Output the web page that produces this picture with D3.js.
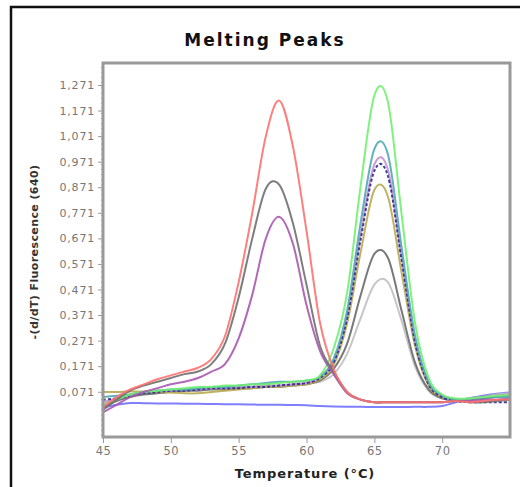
<html lang="en">
<head>
<style>
  body { margin: 0; background: #fff; }
  text { font-family: "DejaVu Sans", sans-serif; }
</style>
</head>
<body>
<script type='text/javascript' src='https://d3js.org/d3.v7.min.js'></script>
<script>
    // temperature grid (°C)
    var temps = [45, 46, 47, 48, 49, 50, 51, 52, 53, 54, 55, 56, 57, 58, 59, 60,
                 61, 62, 63, 64, 65, 66, 67, 68, 69, 70, 71, 72, 73, 74, 75];

    // -(d/dT) fluorescence, one array per sample
    var blueBase = [0.010, 0.020, 0.027, 0.026, 0.025, 0.025, 0.024, 0.024, 0.023, 0.022, 0.022, 0.021, 0.020, 0.020, 0.019, 0.018,
                    0.015, 0.013, 0.012, 0.012, 0.011, 0.011, 0.011, 0.012, 0.012, 0.015, 0.030, 0.045, 0.055, 0.063, 0.068];
    var lightGray = [0.020, 0.040, 0.055, 0.065, 0.070, 0.075, 0.080, 0.080, 0.085, 0.085, 0.090, 0.090, 0.095, 0.095, 0.100, 0.105,
                     0.110, 0.140, 0.220, 0.360, 0.490, 0.500, 0.350, 0.170, 0.075, 0.045, 0.040, 0.045, 0.050, 0.060, 0.065];
    var darkGray = [0.010, 0.035, 0.050, 0.060, 0.065, 0.070, 0.075, 0.075, 0.080, 0.080, 0.085, 0.085, 0.090, 0.090, 0.095, 0.100,
                    0.115, 0.160, 0.260, 0.450, 0.610, 0.595, 0.390, 0.185, 0.080, 0.045, 0.040, 0.040, 0.045, 0.050, 0.055];
    var olive = [0.070, 0.070, 0.072, 0.072, 0.070, 0.068, 0.065, 0.065, 0.070, 0.075, 0.080, 0.085, 0.090, 0.090, 0.095, 0.100,
                 0.120, 0.175, 0.340, 0.620, 0.860, 0.835, 0.540, 0.250, 0.095, 0.050, 0.040, 0.045, 0.050, 0.055, 0.060];
    var lavender = [0.030, 0.045, 0.060, 0.070, 0.075, 0.075, 0.080, 0.080, 0.085, 0.085, 0.090, 0.090, 0.095, 0.095, 0.100, 0.105,
                    0.130, 0.190, 0.370, 0.690, 0.960, 0.940, 0.600, 0.270, 0.105, 0.055, 0.040, 0.045, 0.050, 0.055, 0.060];
    var navy = [0.040, 0.045, 0.055, 0.065, 0.070, 0.075, 0.075, 0.080, 0.085, 0.085, 0.085, 0.090, 0.090, 0.095, 0.100, 0.105,
                0.125, 0.185, 0.360, 0.670, 0.935, 0.915, 0.590, 0.265, 0.100, 0.050, 0.035, 0.030, 0.030, 0.030, 0.030];
    var teal = [0.050, 0.055, 0.060, 0.070, 0.075, 0.080, 0.080, 0.085, 0.090, 0.090, 0.095, 0.100, 0.105, 0.110, 0.110, 0.115,
                0.130, 0.200, 0.390, 0.735, 1.020, 1.000, 0.640, 0.290, 0.110, 0.057, 0.040, 0.040, 0.045, 0.050, 0.050];
    var green = [0.020, 0.040, 0.060, 0.070, 0.075, 0.080, 0.085, 0.090, 0.090, 0.095, 0.095, 0.100, 0.100, 0.105, 0.110, 0.115,
                 0.135, 0.240, 0.460, 0.880, 1.230, 1.205, 0.770, 0.340, 0.125, 0.060, 0.045, 0.045, 0.050, 0.055, 0.058];
    var purple = [-0.010, 0.020, 0.050, 0.070, 0.085, 0.100, 0.110, 0.125, 0.150, 0.180, 0.280, 0.450, 0.670, 0.755, 0.650, 0.410,
                  0.230, 0.140, 0.065, 0.040, 0.030, 0.030, 0.030, 0.030, 0.030, 0.030, 0.035, 0.035, 0.040, 0.040, 0.045];
    var gray = [0.000, 0.040, 0.075, 0.095, 0.110, 0.125, 0.140, 0.150, 0.180, 0.260, 0.440, 0.670, 0.865, 0.880, 0.730, 0.490,
                0.250, 0.150, 0.070, 0.040, 0.030, 0.030, 0.030, 0.030, 0.030, 0.030, 0.035, 0.030, 0.030, 0.035, 0.040];
    var red = [0.010, 0.050, 0.080, 0.100, 0.120, 0.135, 0.150, 0.165, 0.200, 0.290, 0.500, 0.770, 1.070, 1.210, 1.030, 0.700,
               0.340, 0.160, 0.070, 0.040, 0.030, 0.030, 0.030, 0.030, 0.030, 0.030, 0.035, 0.030, 0.035, 0.040, 0.040];

    var yTicks = [0.071, 0.171, 0.271, 0.371, 0.471, 0.571, 0.671, 0.771, 0.871, 0.971, 1.071, 1.171, 1.271];
    var yTickLabels = ["0,071", "0,171", "0,271", "0,371", "0,471", "0,571", "0,671", "0,771", "0,871", "0,971", "1,071", "1,171", "1,271"];
    var xTicks = [45, 50, 55, 60, 65, 70];
    var xTickLabels = ["45", "50", "55", "60", "65", "70"];

    var series = [
        { values: blueBase,  color: "#7070ff" },
        { values: lightGray, color: "#c0c0c0" },
        { values: darkGray,  color: "#6a6a6a" },
        { values: olive,     color: "#b8aa50" },
        { values: lavender,  color: "#c890d0" },
        { values: navy,      color: "#2a2a90", dash: "3,2" },
        { values: teal,      color: "#50a8b0" },
        { values: green,     color: "#70f070" },
        { values: purple,    color: "#a858b0" },
        { values: gray,      color: "#707070" },
        { values: red,       color: "#ff7070" }
    ];

    var width = 520, height = 487;
    var pLeft = 103, pRight = 510, pTop = 63, pBottom = 437;

    var svg = d3.select("body").append("svg")
        .attr("width", width)
        .attr("height", height);

    // outer frame
    svg.append("rect")
        .attr("x", 11).attr("y", 7)
        .attr("width", 520).attr("height", 500)
        .attr("fill", "none")
        .attr("stroke", "#111")
        .attr("stroke-width", 2.5);

    var x = d3.scaleLinear().domain([45, 75]).range([pLeft, pRight]);
    var y = d3.scaleLinear().domain([-0.106, 1.357]).range([pBottom, pTop]);

    svg.append("text")
        .attr("x", 265).attr("y", 46)
        .attr("text-anchor", "middle")
        .attr("font-size", 17).attr("font-weight", "bold")
        .attr("letter-spacing", 2)
        .attr("fill", "#111")
        .text("Melting Peaks");

    // y minor ticks
    var minor = d3.scaleLinear().domain([-0.106, 1.357]).ticks(70);
    svg.append("g").selectAll("line")
        .data(minor)
        .enter().append("line")
        .attr("x1", pLeft - 2).attr("x2", pLeft)
        .attr("y1", function(d) { return y(d); })
        .attr("y2", function(d) { return y(d); })
        .attr("stroke", "#aaa");

    var yAxis = d3.axisLeft(y).tickValues(yTicks)
        .tickFormat(function(d, i) { return yTickLabels[i]; })
        .tickSize(5).tickPadding(3);
    var gy = svg.append("g").attr("transform", "translate(" + pLeft + ",0)").call(yAxis);
    gy.select(".domain").remove();
    gy.selectAll("line").attr("stroke", "#999");
    gy.selectAll("text").attr("font-size", 11).attr("fill", "#777")
        .attr("letter-spacing", 0.8)
        .style("font-family", "'DejaVu Sans', sans-serif");

    var xAxis = d3.axisBottom(x).tickValues(xTicks)
        .tickFormat(function(d, i) { return xTickLabels[i]; })
        .tickSize(6).tickPadding(4);
    var gx = svg.append("g").attr("transform", "translate(0," + pBottom + ")").call(xAxis);
    gx.select(".domain").remove();
    gx.selectAll("line").attr("stroke", "#999");
    gx.selectAll("text").attr("font-size", 11.5).attr("fill", "#777")
        .attr("letter-spacing", 0.5)
        .style("font-family", "'DejaVu Sans', sans-serif");

    svg.append("text")
        .attr("transform", "translate(38," + ((pTop + pBottom) / 2 + 2) + ") rotate(-90)")
        .attr("text-anchor", "middle")
        .attr("font-size", 11).attr("font-weight", "bold")
        .attr("letter-spacing", 0.4)
        .attr("fill", "#333")
        .text("-(d/dT) Fluorescence (640)");

    svg.append("text")
        .attr("x", 305).attr("y", 478)
        .attr("text-anchor", "middle")
        .attr("font-size", 13).attr("font-weight", "bold")
        .attr("letter-spacing", 0.9)
        .attr("fill", "#222")
        .text("Temperature (°C)");

    svg.append("clipPath").attr("id", "clip")
        .append("rect")
        .attr("x", pLeft).attr("y", pTop)
        .attr("width", pRight - pLeft).attr("height", pBottom - pTop);

    var line = d3.line()
        .x(function(d, i) { return x(temps[i]); })
        .y(function(d) { return y(d); })
        .curve(d3.curveCatmullRom.alpha(0));

    svg.append("g").attr("clip-path", "url(#clip)")
        .selectAll("path")
        .data(series)
        .enter().append("path")
        .attr("d", function(d) { return line(d.values); })
        .attr("fill", "none")
        .attr("stroke", function(d) { return d.color; })
        .attr("stroke-width", 2)
        .attr("stroke-dasharray", function(d) { return d.dash || null; })
        .attr("stroke-opacity", 0.9);

    // plot frame
    svg.append("rect")
        .attr("x", pLeft).attr("y", pTop)
        .attr("width", pRight - pLeft).attr("height", pBottom - pTop)
        .attr("fill", "none")
        .attr("stroke", "#999")
        .attr("stroke-width", 3);
</script>
</body>
</html>
